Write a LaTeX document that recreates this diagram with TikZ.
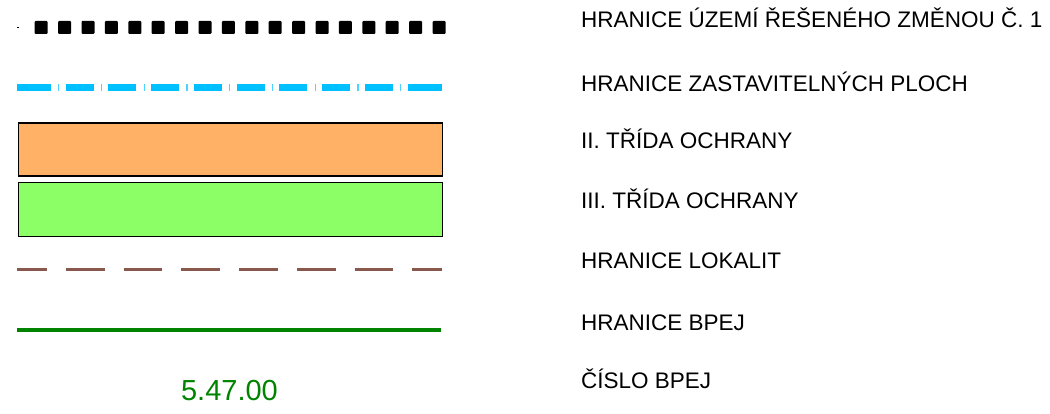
\documentclass[tikz,border=0pt]{standalone}
\usepackage{fontspec}
\setmainfont{Liberation Sans}
\definecolor{sqblack}{RGB}{0,0,0}
\definecolor{zcyan}{RGB}{0,192,255}
\definecolor{zorange}{RGB}{255,178,102}
\definecolor{zgreen}{RGB}{140,255,102}
\definecolor{zbrown}{RGB}{135,88,75}
\definecolor{zdgreen}{RGB}{0,132,0}
\tikzset{
  lbl/.style={anchor=base west, inner sep=0pt, font=\fontsize{22.5}{27}\selectfont},
  sq/.style={fill=sqblack, rounded corners=1pt},
  cyanline/.style={draw=zcyan, line width=7pt},
  cyantick/.style={draw=zcyan!70, line width=1.3pt},
  classbox/.style={draw=black, line width=1.4pt},
  brownline/.style={draw=zbrown, line width=3.3pt, dash pattern=on 38.7pt off 19pt, dash phase=9pt},
  greenline/.style={draw=zdgreen, line width=4pt},
}
\begin{document}
\begin{tikzpicture}[x=1pt,y=-1pt]
\useasboundingbox (0,0) rectangle (1050,414);
% row 1: black squares
\fill[sqblack] (17,26.8) rectangle (18.6,28.4);
\foreach \i in {0,...,17}{
  \fill[sq] ({34.7+23.4*\i},21) rectangle ({47.7+23.4*\i},34);
}
% row 2: cyan dash-dot
\draw[cyanline] (17.3,87.7) -- (50.7,87.7);
\foreach \i in {0,...,7}{
  \draw[cyanline] ({65.7+42.75*\i},87.7) -- ({93.7+42.75*\i},87.7);
}
\draw[cyanline] (408,87.7) -- (442,87.7);
\foreach \i in {0,...,8}{
  \draw[cyantick] ({58.8+42.75*\i},84.2) -- ({58.8+42.75*\i},91.2);
}
% row 3,4: boxes
\node[classbox, fill=zorange, minimum width=424.5pt, minimum height=53pt, inner sep=0pt, anchor=north west] (orange) at (17.5,122.2) {};
\node[classbox, fill=zgreen, minimum width=424.5pt, minimum height=54pt, inner sep=0pt, anchor=north west] (green) at (17.5,182) {};
% row 5: brown dashed
\draw[brownline] (17.3,269.3) -- (442,269.3);
% row 6: green line
\draw[greenline] (17,329.7) -- (441,329.7);
% row 7: number
\node[anchor=base, inner sep=0pt, text=zdgreen, font=\fontsize{29}{34}\selectfont] (num) at (229.5,400.7) {5.47.00};
% labels
\node[lbl] (l1) at (581,28) {HRANICE ÚZEMÍ ŘEŠENÉHO ZMĚNOU Č. 1};
\node[lbl] (l2) at (581,91.7) {HRANICE ZASTAVITELNÝCH PLOCH};
\node[lbl] (l3) at (581,148.3) {II. TŘÍDA OCHRANY};
\node[lbl] (l4) at (581,208.3) {III. TŘÍDA OCHRANY};
\node[lbl] (l5) at (581,268.3) {HRANICE LOKALIT};
\node[lbl] (l6) at (581,330) {HRANICE BPEJ};
\node[lbl] (l7) at (581,388.3) {ČÍSLO BPEJ};
\end{tikzpicture}
\end{document}
